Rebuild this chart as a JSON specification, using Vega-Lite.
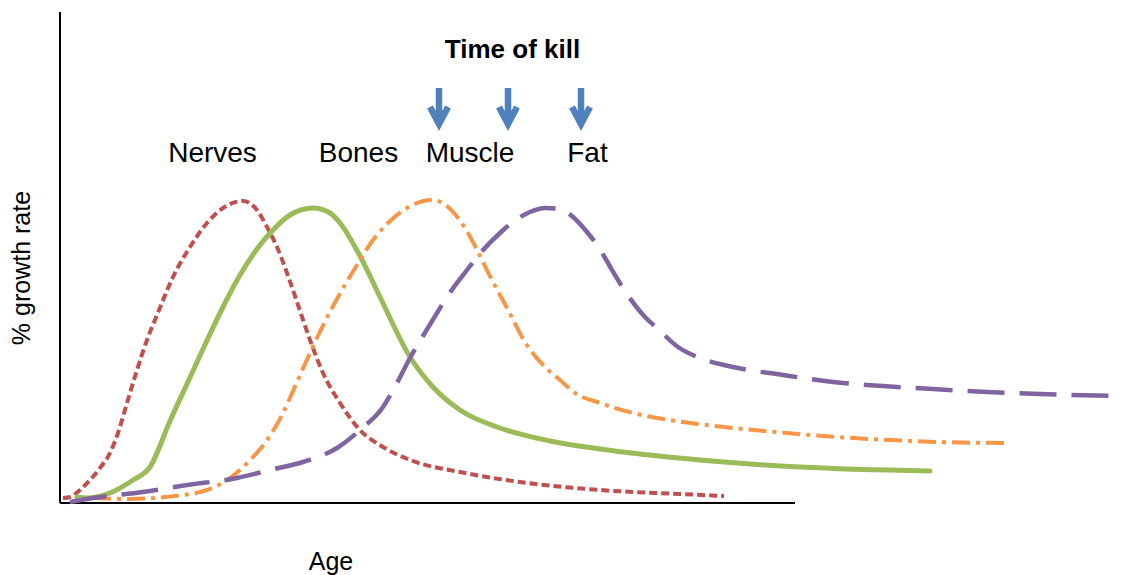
{
  "$schema": "https://vega.github.io/schema/vega-lite/v6.json",
  "width": 1123,
  "height": 575,
  "autosize": {"type": "none"},
  "padding": 0,
  "background": "white",
  "config": {"view": {"stroke": null}, "font": "Liberation Sans"},
  "datasets": {
    "curves": [
      {"tissue": "Nerves", "age": 0.6, "g": 1.0},
      {"tissue": "Nerves", "age": 2.0, "g": 1.2},
      {"tissue": "Nerves", "age": 4.0, "g": 2.6},
      {"tissue": "Nerves", "age": 6.0, "g": 4.6},
      {"tissue": "Nerves", "age": 8.0, "g": 7.0},
      {"tissue": "Nerves", "age": 10.0, "g": 10.0},
      {"tissue": "Nerves", "age": 11.6, "g": 14.0},
      {"tissue": "Nerves", "age": 13.4, "g": 20.0},
      {"tissue": "Nerves", "age": 15.4, "g": 26.6},
      {"tissue": "Nerves", "age": 17.4, "g": 32.6},
      {"tissue": "Nerves", "age": 19.4, "g": 37.6},
      {"tissue": "Nerves", "age": 22.6, "g": 45.2},
      {"tissue": "Nerves", "age": 26.0, "g": 51.2},
      {"tissue": "Nerves", "age": 29.4, "g": 56.0},
      {"tissue": "Nerves", "age": 32.6, "g": 59.0},
      {"tissue": "Nerves", "age": 36.6, "g": 60.4},
      {"tissue": "Nerves", "age": 39.4, "g": 58.6},
      {"tissue": "Nerves", "age": 41.4, "g": 55.2},
      {"tissue": "Nerves", "age": 43.4, "g": 51.2},
      {"tissue": "Nerves", "age": 45.4, "g": 46.0},
      {"tissue": "Nerves", "age": 47.4, "g": 40.2},
      {"tissue": "Nerves", "age": 50.0, "g": 32.6},
      {"tissue": "Nerves", "age": 52.6, "g": 26.0},
      {"tissue": "Nerves", "age": 56.0, "g": 20.0},
      {"tissue": "Nerves", "age": 60.0, "g": 14.6},
      {"tissue": "Nerves", "age": 64.6, "g": 11.2},
      {"tissue": "Nerves", "age": 70.0, "g": 8.6},
      {"tissue": "Nerves", "age": 80.0, "g": 6.2},
      {"tissue": "Nerves", "age": 92.0, "g": 4.2},
      {"tissue": "Nerves", "age": 108.0, "g": 2.6},
      {"tissue": "Nerves", "age": 124.0, "g": 1.8},
      {"tissue": "Nerves", "age": 132.8, "g": 1.4},
      {"tissue": "Bones", "age": 3.4, "g": 1.2},
      {"tissue": "Bones", "age": 5.4, "g": 1.0},
      {"tissue": "Bones", "age": 10.0, "g": 2.0},
      {"tissue": "Bones", "age": 14.6, "g": 4.6},
      {"tissue": "Bones", "age": 18.0, "g": 7.2},
      {"tissue": "Bones", "age": 22.0, "g": 16.4},
      {"tissue": "Bones", "age": 26.6, "g": 26.4},
      {"tissue": "Bones", "age": 30.0, "g": 33.8},
      {"tissue": "Bones", "age": 33.4, "g": 40.8},
      {"tissue": "Bones", "age": 36.0, "g": 45.6},
      {"tissue": "Bones", "age": 39.4, "g": 50.8},
      {"tissue": "Bones", "age": 42.6, "g": 54.6},
      {"tissue": "Bones", "age": 46.0, "g": 57.6},
      {"tissue": "Bones", "age": 50.6, "g": 59.0},
      {"tissue": "Bones", "age": 54.0, "g": 58.0},
      {"tissue": "Bones", "age": 56.0, "g": 56.0},
      {"tissue": "Bones", "age": 60.0, "g": 49.4},
      {"tissue": "Bones", "age": 64.0, "g": 41.2},
      {"tissue": "Bones", "age": 70.0, "g": 29.2},
      {"tissue": "Bones", "age": 74.6, "g": 23.2},
      {"tissue": "Bones", "age": 80.0, "g": 18.6},
      {"tissue": "Bones", "age": 88.0, "g": 15.0},
      {"tissue": "Bones", "age": 98.0, "g": 12.4},
      {"tissue": "Bones", "age": 108.0, "g": 10.8},
      {"tissue": "Bones", "age": 128.0, "g": 8.6},
      {"tissue": "Bones", "age": 148.0, "g": 7.2},
      {"tissue": "Bones", "age": 174.0, "g": 6.4},
      {"tissue": "Muscle", "age": 6.6, "g": 1.0},
      {"tissue": "Muscle", "age": 14.0, "g": 0.8},
      {"tissue": "Muscle", "age": 21.0, "g": 1.2},
      {"tissue": "Muscle", "age": 29.4, "g": 2.6},
      {"tissue": "Muscle", "age": 34.0, "g": 5.0},
      {"tissue": "Muscle", "age": 38.6, "g": 9.2},
      {"tissue": "Muscle", "age": 41.0, "g": 12.0},
      {"tissue": "Muscle", "age": 44.4, "g": 17.6},
      {"tissue": "Muscle", "age": 47.4, "g": 24.2},
      {"tissue": "Muscle", "age": 51.0, "g": 32.2},
      {"tissue": "Muscle", "age": 54.4, "g": 39.0},
      {"tissue": "Muscle", "age": 59.4, "g": 47.6},
      {"tissue": "Muscle", "age": 62.6, "g": 52.6},
      {"tissue": "Muscle", "age": 65.6, "g": 56.0},
      {"tissue": "Muscle", "age": 69.4, "g": 59.0},
      {"tissue": "Muscle", "age": 74.4, "g": 60.6},
      {"tissue": "Muscle", "age": 77.6, "g": 59.2},
      {"tissue": "Muscle", "age": 79.6, "g": 57.0},
      {"tissue": "Muscle", "age": 81.6, "g": 54.0},
      {"tissue": "Muscle", "age": 83.6, "g": 50.2},
      {"tissue": "Muscle", "age": 86.4, "g": 44.6},
      {"tissue": "Muscle", "age": 89.4, "g": 39.0},
      {"tissue": "Muscle", "age": 93.0, "g": 32.2},
      {"tissue": "Muscle", "age": 97.0, "g": 27.2},
      {"tissue": "Muscle", "age": 100.0, "g": 24.6},
      {"tissue": "Muscle", "age": 103.0, "g": 22.0},
      {"tissue": "Muscle", "age": 108.0, "g": 20.0},
      {"tissue": "Muscle", "age": 114.6, "g": 18.0},
      {"tissue": "Muscle", "age": 124.6, "g": 16.2},
      {"tissue": "Muscle", "age": 134.6, "g": 15.0},
      {"tissue": "Muscle", "age": 145.4, "g": 14.0},
      {"tissue": "Muscle", "age": 155.4, "g": 13.2},
      {"tissue": "Muscle", "age": 166.0, "g": 12.6},
      {"tissue": "Muscle", "age": 176.0, "g": 12.2},
      {"tissue": "Muscle", "age": 189.8, "g": 12.0},
      {"tissue": "Fat", "age": 2.0, "g": 0.2},
      {"tissue": "Fat", "age": 6.6, "g": 1.0},
      {"tissue": "Fat", "age": 16.6, "g": 2.2},
      {"tissue": "Fat", "age": 25.4, "g": 3.6},
      {"tissue": "Fat", "age": 35.4, "g": 5.0},
      {"tissue": "Fat", "age": 42.0, "g": 6.6},
      {"tissue": "Fat", "age": 48.6, "g": 8.2},
      {"tissue": "Fat", "age": 55.4, "g": 11.0},
      {"tissue": "Fat", "age": 60.0, "g": 14.6},
      {"tissue": "Fat", "age": 64.6, "g": 19.2},
      {"tissue": "Fat", "age": 67.4, "g": 24.0},
      {"tissue": "Fat", "age": 70.0, "g": 29.0},
      {"tissue": "Fat", "age": 72.6, "g": 33.4},
      {"tissue": "Fat", "age": 75.4, "g": 38.0},
      {"tissue": "Fat", "age": 77.0, "g": 40.6},
      {"tissue": "Fat", "age": 81.4, "g": 46.6},
      {"tissue": "Fat", "age": 83.4, "g": 49.2},
      {"tissue": "Fat", "age": 88.0, "g": 54.0},
      {"tissue": "Fat", "age": 90.6, "g": 56.2},
      {"tissue": "Fat", "age": 94.0, "g": 58.2},
      {"tissue": "Fat", "age": 97.0, "g": 59.0},
      {"tissue": "Fat", "age": 100.0, "g": 58.8},
      {"tissue": "Fat", "age": 102.6, "g": 57.2},
      {"tissue": "Fat", "age": 105.4, "g": 54.2},
      {"tissue": "Fat", "age": 107.4, "g": 51.6},
      {"tissue": "Fat", "age": 111.0, "g": 45.6},
      {"tissue": "Fat", "age": 112.6, "g": 43.0},
      {"tissue": "Fat", "age": 117.0, "g": 37.2},
      {"tissue": "Fat", "age": 119.4, "g": 35.0},
      {"tissue": "Fat", "age": 123.6, "g": 31.2},
      {"tissue": "Fat", "age": 128.0, "g": 29.0},
      {"tissue": "Fat", "age": 134.6, "g": 27.2},
      {"tissue": "Fat", "age": 144.6, "g": 25.6},
      {"tissue": "Fat", "age": 154.6, "g": 24.2},
      {"tissue": "Fat", "age": 164.6, "g": 23.4},
      {"tissue": "Fat", "age": 174.6, "g": 22.8},
      {"tissue": "Fat", "age": 185.4, "g": 22.2},
      {"tissue": "Fat", "age": 196.0, "g": 21.8},
      {"tissue": "Fat", "age": 212.6, "g": 21.4}
    ],
    "axes": [
      {"age": 0, "g": 0, "age2": 0, "g2": 98.2},
      {"age": 0, "g": 0, "age2": 147, "g2": 0}
    ],
    "labels": [
      {"label": "Nerves", "age": 30.5, "g": 68.2},
      {"label": "Bones", "age": 59.7, "g": 68.2},
      {"label": "Muscle", "age": 82.0, "g": 68.2},
      {"label": "Fat", "age": 105.5, "g": 68.2}
    ],
    "kills": [
      {"tissue": "Nerves", "age": 75.8, "g": 79.0},
      {"tissue": "Bones", "age": 89.6, "g": 79.0},
      {"tissue": "Fat", "age": 104.2, "g": 79.0}
    ],
    "title": [{"label": "Time of kill", "age": 90.5, "g": 89.0}],
    "xtitle": [{"label": "Age", "age": 54.2, "g": -13.4}],
    "ytitle": [{"label": "% growth rate", "age": -6.0, "g": 47.0}]
  },
  "encoding": {
    "x": {"field": "age", "type": "quantitative", "axis": null,
          "scale": {"domain": [0, 147], "range": [60, 795], "nice": false, "zero": false}},
    "y": {"field": "g", "type": "quantitative", "axis": null,
          "scale": {"domain": [0, 98.2], "range": [503, 12], "nice": false, "zero": false}}
  },
  "layer": [
    {
      "data": {"name": "axes"},
      "mark": {"type": "rule", "color": "black", "strokeWidth": 2},
      "encoding": {"x2": {"field": "age2"}, "y2": {"field": "g2"}}
    },
    {
      "data": {"name": "curves"},
      "transform": [{"filter": "datum.tissue === 'Nerves'"}],
      "mark": {"type": "line", "interpolate": "monotone", "color": "#C0504D", "strokeWidth": 4, "strokeDash": [8, 4], "strokeCap": "butt"},
      "encoding": {"order": {"field": "age", "type": "quantitative"}}
    },
    {
      "data": {"name": "curves"},
      "transform": [{"filter": "datum.tissue === 'Bones'"}],
      "mark": {"type": "line", "interpolate": "monotone", "color": "#9BBB59", "strokeWidth": 5, "strokeCap": "round"},
      "encoding": {"order": {"field": "age", "type": "quantitative"}}
    },
    {
      "data": {"name": "curves"},
      "transform": [{"filter": "datum.tissue === 'Muscle'"}],
      "mark": {"type": "line", "interpolate": "monotone", "color": "#F79646", "strokeWidth": 4, "strokeDash": [18, 6, 4, 6], "strokeCap": "butt"},
      "encoding": {"order": {"field": "age", "type": "quantitative"}}
    },
    {
      "data": {"name": "curves"},
      "transform": [{"filter": "datum.tissue === 'Fat'"}],
      "mark": {"type": "line", "interpolate": "monotone", "color": "#8064A2", "strokeWidth": 4.5, "strokeDash": [37, 15], "strokeCap": "butt"},
      "encoding": {"order": {"field": "age", "type": "quantitative"}}
    },
    {
      "data": {"name": "kills"},
      "mark": {"type": "point", "shape": "M0,-1L0,0.75M-0.45,-0.05L0,0.8L0.45,-0.05", "filled": false, "stroke": "#4F81BD", "strokeWidth": 6.5, "size": 1600, "opacity": 1, "strokeCap": "butt", "strokeJoin": "miter"}
    },
    {
      "data": {"name": "labels"},
      "mark": {"type": "text", "fontSize": 28, "align": "center", "baseline": "alphabetic", "color": "black"},
      "encoding": {"text": {"field": "label"}}
    },
    {
      "data": {"name": "title"},
      "mark": {"type": "text", "fontSize": 26, "fontWeight": "bold", "align": "center", "baseline": "alphabetic", "color": "black"},
      "encoding": {"text": {"field": "label"}}
    },
    {
      "data": {"name": "xtitle"},
      "mark": {"type": "text", "fontSize": 25, "align": "center", "baseline": "alphabetic", "color": "black"},
      "encoding": {"text": {"field": "label"}}
    },
    {
      "data": {"name": "ytitle"},
      "mark": {"type": "text", "fontSize": 25, "angle": 270, "align": "center", "baseline": "alphabetic", "color": "black"},
      "encoding": {"text": {"field": "label"}}
    }
  ]
}
